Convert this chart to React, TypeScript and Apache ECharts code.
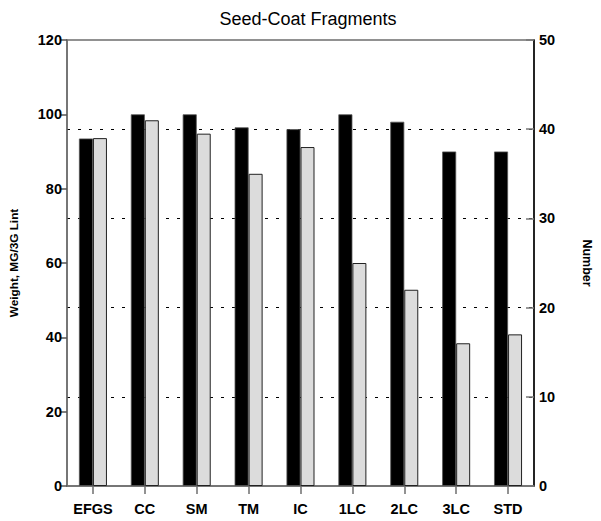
import React, { useEffect, useRef } from "react";
import * as echarts from "echarts";

// Seed-coat fragment weight (left axis) and count (right axis) per treatment
const categories = ["EFGS", "CC", "SM", "TM", "IC", "1LC", "2LC", "3LC", "STD"];
const weightValues = [93.5, 100, 100, 96.5, 96, 100, 98, 90, 90];
const numberValues = [39, 41, 39.5, 35, 38, 25, 22, 16, 17];

const weightTicks = { min: 0, max: 120, interval: 20 };
const numberTicks = { min: 0, max: 50, interval: 10 };

const FONT = "'Liberation Sans', Arial, Helvetica, sans-serif";

export default function App() {
  const ref = useRef<HTMLDivElement>(null);

  useEffect(() => {
    if (!ref.current) return;
    const chart = echarts.init(ref.current, undefined, { renderer: "svg" });
    const labelStyle = {
      color: "#000",
      fontFamily: FONT,
      fontWeight: "bold" as const,
      fontSize: 14.5,
    };
    chart.setOption({
      animation: false,
      backgroundColor: "#fff",
      title: {
        text: "Seed-Coat Fragments",
        left: 303,
        textAlign: "center",
        top: 5,
        textStyle: {
          fontFamily: FONT,
          fontSize: 18,
          fontWeight: "normal",
          color: "#000",
        },
      },
      grid: {
        left: 63,
        right: 54,
        top: 40,
        bottom: 35,
        show: true,
        borderColor: "#6e6e6e",
        borderWidth: 1.5,
        backgroundColor: "transparent",
      },
      xAxis: {
        type: "category",
        data: categories,
        boundaryGap: true,
        axisLine: { show: true, lineStyle: { color: "#6e6e6e", width: 1.5 } },
        axisTick: {
          show: true,
          alignWithLabel: true,
          inside: false,
          length: 8,
          lineStyle: { color: "#6e6e6e", width: 1.5 },
        },
        axisLabel: { ...labelStyle, margin: 15 },
        splitLine: { show: false },
      },
      yAxis: [
        {
          type: "value",
          position: "left",
          ...weightTicks,
          name: "Weight, MG/3G Lint",
          nameLocation: "middle",
          nameGap: 47,
          nameRotate: 90,
          nameTextStyle: {
            fontFamily: FONT,
            fontWeight: "bold",
            fontSize: 11.8,
            color: "#000",
          },
          axisLine: { show: true, lineStyle: { color: "#6e6e6e", width: 1.5 } },
          axisTick: {
            show: true,
            inside: false,
            length: 7,
            lineStyle: { color: "#555", width: 1.5 },
          },
          axisLabel: { ...labelStyle, margin: 5 },
          splitLine: { show: false },
        },
        {
          type: "value",
          position: "right",
          ...numberTicks,
          name: "Number",
          nameLocation: "middle",
          nameGap: 46,
          nameRotate: -90,
          nameTextStyle: {
            fontFamily: FONT,
            fontWeight: "bold",
            fontSize: 12.5,
            color: "#000",
          },
          axisLine: { show: true, lineStyle: { color: "#000", width: 1.5 } },
          axisTick: {
            show: true,
            inside: true,
            length: 8,
            lineStyle: { color: "#777", width: 1.5 },
          },
          axisLabel: { ...labelStyle, margin: 5 },
          splitLine: {
            show: true,
            lineStyle: {
              color: ["transparent", "#000", "#000", "#000", "#000", "transparent"],
              width: 1,
              type: [3, 8],
            },
          },
        },
      ],
      series: [
        {
          name: "Weight",
          type: "bar",
          yAxisIndex: 0,
          data: weightValues,
          barWidth: 14,
          barGap: "0%",
          itemStyle: { color: "#000", borderColor: "#555", borderWidth: 0.8 },
        },
        {
          name: "Number",
          type: "bar",
          yAxisIndex: 1,
          data: numberValues,
          barWidth: 14,
          barGap: "0%",
          itemStyle: { color: "#dcdcdc", borderColor: "#222", borderWidth: 1 },
        },
      ],
    });
    return () => chart.dispose();
  }, []);

  return (
    <div
      ref={ref}
      style={{ position: "fixed", left: 0, top: 0, width: 601, height: 521 }}
    />
  );
}
